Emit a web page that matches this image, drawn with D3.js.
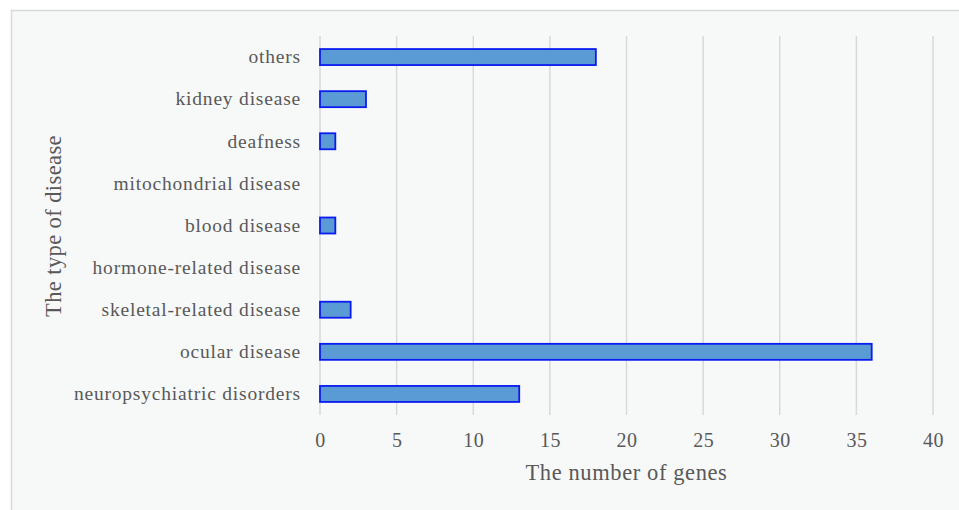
<!DOCTYPE html>
<html>
<head>
<meta charset="utf-8">
<script src="https://cdn.jsdelivr.net/npm/d3@7"></script>
<style>
  html, body { margin: 0; padding: 0; background: #ffffff; }
  svg { display: block; }
</style>
</head>
<body>
<script>
// Disease categories, listed top to bottom
const categories = [
  "others",
  "kidney disease",
  "deafness",
  "mitochondrial disease",
  "blood disease",
  "hormone-related disease",
  "skeletal-related disease",
  "ocular disease",
  "neuropsychiatric disorders"
];
// Number of genes per category
const geneCounts = [18, 3, 1, 0, 1, 0, 2, 36, 13];
// X axis ticks
const xTicks = [0, 5, 10, 15, 20, 25, 30, 35, 40];

const W = 959, H = 510;
const svg = d3.select("body").append("svg").attr("width", W).attr("height", H);

// chart panel
svg.append("rect")
  .attr("x", 11.5).attr("y", 10.5)
  .attr("width", W + 10).attr("height", H + 10)
  .attr("fill", "#f7f8f8").attr("stroke", "#d9d9d9").attr("stroke-width", 1.5);

const plot = { left: 320, right: 933, top: 36, bottom: 415 };

const x = d3.scaleLinear().domain([0, 40]).range([plot.left, plot.right]);
const y = d3.scaleBand().domain(categories).range([plot.top, plot.bottom])
  .paddingInner(0.62).paddingOuter(0.31);

const font = "'Liberation Serif', 'Times New Roman', serif";
const textColor = "#595959";

// vertical gridlines
svg.append("g").selectAll("line").data(xTicks).join("line")
  .attr("x1", d => x(d)).attr("x2", d => x(d))
  .attr("y1", plot.top).attr("y2", plot.bottom)
  .attr("stroke", "#d9d9d9").attr("stroke-width", 1.5);

// x axis tick labels
const xAxis = d3.axisBottom(x).tickValues(xTicks).tickSize(0).tickPadding(0);
const gx = svg.append("g").attr("transform", `translate(0,${plot.bottom + 18})`).call(xAxis)
  .attr("font-family", font).attr("font-size", 20);
gx.select(".domain").remove();
gx.selectAll("text").attr("fill", textColor).attr("dy", "0.71em")
  .attr("letter-spacing", 0.5);

// y axis category labels
const yAxis = d3.axisLeft(y).tickSize(0).tickPadding(19);
const gy = svg.append("g").attr("transform", `translate(${plot.left},0)`).call(yAxis)
  .attr("font-family", font).attr("font-size", 19.5);
gy.select(".domain").remove();
gy.selectAll("text").attr("fill", textColor).attr("letter-spacing", 0.8);

// bars
svg.append("g").selectAll("rect").data(categories).join("rect")
  .attr("x", x(0))
  .attr("y", d => y(d))
  .attr("width", (d, i) => x(geneCounts[i]) - x(0))
  .attr("height", y.bandwidth())
  .attr("fill", "#5b9bd5")
  .attr("stroke", "#0a1cf0")
  .attr("stroke-width", 1.8)
  .attr("display", (d, i) => geneCounts[i] > 0 ? null : "none");

// axis titles
svg.append("text")
  .attr("x", (plot.left + plot.right) / 2).attr("y", 480)
  .attr("text-anchor", "middle")
  .attr("font-family", font).attr("font-size", 22.5).attr("letter-spacing", 0.6)
  .attr("fill", textColor)
  .text("The number of genes");

svg.append("text")
  .attr("transform", `translate(61,226) rotate(-90)`)
  .attr("text-anchor", "middle")
  .attr("font-family", font).attr("font-size", 22.5).attr("letter-spacing", 0.4)
  .attr("fill", textColor)
  .text("The type of disease");
</script>
</body>
</html>
